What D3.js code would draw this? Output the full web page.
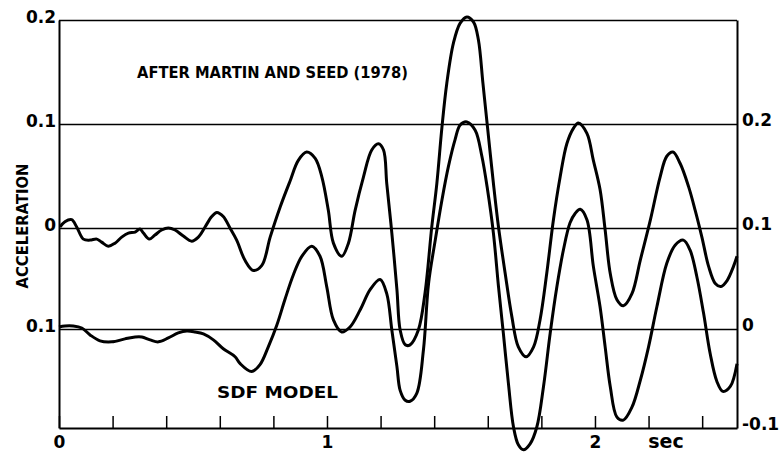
<!DOCTYPE html>
<html>
<head>
<meta charset="utf-8">
<script src="https://cdn.jsdelivr.net/npm/d3@7"></script>
<style>
body{margin:0;background:#fff;}
</style>
</head>
<body>
<div id="chart"></div>
<script>
// record (time in sec, acceleration in g)
const tEnd = 2.53;

// after Martin and Seed (1978) - left axis
const topTime = [0.004,0.022,0.047,0.066,0.091,0.116,0.141,0.159,0.184,0.209,
0.234,0.259,0.284,0.302,0.315,0.337,0.358,0.383,0.408,0.433,
0.464,0.495,0.520,0.545,0.570,0.589,0.613,0.638,0.663,0.694,
0.725,0.757,0.788,0.825,0.862,0.893,0.924,0.956,0.981,1.005,
1.024,1.055,1.080,1.105,1.136,1.167,1.192,1.211,1.223,1.242,
1.261,1.273,1.292,1.310,1.341,1.366,1.391,1.410,1.429,1.447,
1.472,1.497,1.522,1.547,1.565,1.582,1.599,1.621,1.640,1.665,
1.690,1.714,1.743,1.771,1.795,1.820,1.845,1.870,1.895,1.920,
1.938,1.970,1.994,2.019,2.038,2.057,2.082,2.106,2.138,2.169,
2.207,2.243,2.268,2.291,2.318,2.349,2.374,2.399,2.424,2.449,
2.470,2.493,2.517,2.530];
const topAccel = [0.001,0.006,0.008,0.001,-0.011,-0.012,-0.011,-0.014,-0.018,-0.015,
-0.009,-0.005,-0.004,-0.001,-0.005,-0.011,-0.007,-0.002,0.000,-0.002,
-0.008,-0.013,-0.009,0.001,0.011,0.015,0.011,0.000,-0.012,-0.032,
-0.042,-0.037,-0.009,0.020,0.045,0.065,0.073,0.067,0.049,0.017,
-0.015,-0.028,-0.015,0.017,0.049,0.075,0.081,0.075,0.043,-0.005,
-0.061,-0.101,-0.116,-0.116,-0.101,-0.064,0.001,0.043,0.097,0.139,
0.178,0.197,0.203,0.198,0.181,0.139,0.097,0.043,0.001,-0.045,
-0.088,-0.118,-0.128,-0.118,-0.091,-0.045,0.008,0.049,0.081,0.096,
0.101,0.091,0.065,0.037,-0.002,-0.045,-0.071,-0.077,-0.065,-0.032,
0.008,0.049,0.069,0.073,0.062,0.040,0.017,-0.009,-0.038,-0.055,
-0.058,-0.052,-0.038,-0.028];

// SDF model - right axis
const sdfTime = [0.000,0.022,0.053,0.085,0.116,0.153,0.197,0.246,0.284,0.309,
0.340,0.371,0.408,0.445,0.477,0.508,0.539,0.576,0.613,0.657,
0.676,0.719,0.750,0.781,0.813,0.844,0.875,0.906,0.943,0.974,
0.999,1.024,1.055,1.086,1.124,1.161,1.198,1.223,1.242,1.261,
1.273,1.292,1.310,1.335,1.360,1.379,1.404,1.429,1.453,1.478,
1.497,1.522,1.553,1.578,1.599,1.621,1.640,1.658,1.677,1.696,
1.714,1.733,1.758,1.783,1.808,1.833,1.858,1.882,1.907,1.926,
1.945,1.970,1.994,2.019,2.038,2.057,2.082,2.106,2.138,2.169,
2.200,2.231,2.268,2.299,2.330,2.355,2.380,2.405,2.430,2.455,
2.477,2.505,2.530];
const sdfAccel = [0.002,0.003,0.003,0.001,-0.006,-0.012,-0.013,-0.010,-0.008,-0.008,
-0.011,-0.013,-0.009,-0.004,-0.002,-0.003,-0.005,-0.011,-0.020,-0.028,
-0.035,-0.043,-0.036,-0.018,0.004,0.030,0.054,0.072,0.082,0.072,
0.042,0.009,-0.003,0.002,0.019,0.039,0.049,0.035,-0.001,-0.038,
-0.062,-0.072,-0.073,-0.065,-0.021,0.045,0.088,0.127,0.159,0.185,
0.199,0.202,0.194,0.169,0.137,0.095,0.042,-0.004,-0.055,-0.099,
-0.117,-0.122,-0.116,-0.099,-0.058,-0.004,0.042,0.078,0.105,0.114,
0.118,0.108,0.062,0.022,-0.018,-0.058,-0.089,-0.092,-0.079,-0.052,
-0.018,0.022,0.065,0.083,0.088,0.078,0.052,0.016,-0.025,-0.053,
-0.063,-0.058,-0.035];

// ticks
const xTicks = [0,0.2,0.4,0.6,0.8,1,1.2,1.4,1.6,1.8,2,2.2,2.4];
const xLabels = ["0","","","","","1","","","","","2","",""];
const leftTicks = [0.2,0.1,0,-0.1];
const leftLabels = ["0.2","0.1","0","0.1"];
const rightTicks = [0.2,0.1,0,-0.1];
const rightLabels = ["0.2","0.1","0","-0.1"];

const width = 780;
const height = 455;
const font = "'DejaVu Sans', 'Liberation Sans', Arial, sans-serif";

const svg = d3.select("#chart")
.append("svg")
.attr("width",width)
.attr("height",height)
.style("background","#fff");

const x = d3.scaleLinear()
.domain([0,tEnd])
.range([59,737]);

// hand drawn axes: spacing between grid lines is not quite even
const yLeft = d3.scaleLinear()
.domain([-0.2,-0.1,0,0.1,0.2])
.range([428,329,228,124,20]);

const yRight = d3.scaleLinear()
.domain([-0.1,0,0.1,0.2,0.3])
.range([428,329,228,124,20]);

// left axis + grid lines
const gl = svg.append("g")
.attr("transform",`translate(${x(0)},0)`)
.call(d3.axisLeft(yLeft)
  .tickValues(leftTicks)
  .tickSizeInner(-(x(tEnd)-x(0)))
  .tickSizeOuter(0)
  .tickPadding(3)
  .tickFormat((d,i)=>leftLabels[i]));
gl.select(".domain").attr("stroke","#000").attr("stroke-width",2);
gl.selectAll(".tick line").attr("stroke","#000").attr("stroke-width",1.3);
gl.selectAll(".tick text")
.attr("dy","0.12em")
.attr("fill","#000")
.style("font-family",font)
.style("font-weight","bold")
.style("font-size","17px");

// right axis
const gr = svg.append("g")
.attr("transform",`translate(${x(tEnd)},0)`)
.call(d3.axisRight(yRight)
  .tickValues(rightTicks)
  .tickSize(0)
  .tickPadding(5)
  .tickFormat((d,i)=>rightLabels[i]));
gr.select(".domain").attr("stroke","#000").attr("stroke-width",2);
gr.selectAll(".tick text")
.attr("dy","0.06em")
.attr("fill","#000")
.style("font-family",font)
.style("font-weight","bold")
.style("font-size","17px");

// time axis
const gx = svg.append("g")
.attr("transform",`translate(0,${yLeft(-0.2)})`)
.call(d3.axisBottom(x)
  .tickValues(xTicks)
  .tickSizeInner(-12)
  .tickSizeOuter(0)
  .tickPadding(8)
  .tickFormat((d,i)=>xLabels[i]));
gx.select(".domain").attr("stroke","#000").attr("stroke-width",2);
gx.selectAll(".tick line").attr("stroke","#000").attr("stroke-width",1.5);
gx.selectAll(".tick text")
.attr("fill","#000")
.style("font-family",font)
.style("font-weight","bold")
.style("font-size","17px");

// curves
const lineTop = d3.line()
.x((d,i)=>x(topTime[i]))
.y(d=>yLeft(d))
.curve(d3.curveCatmullRom.alpha(0.5));

const lineSdf = d3.line()
.x((d,i)=>x(sdfTime[i]))
.y(d=>yRight(d))
.curve(d3.curveCatmullRom.alpha(0.5));

svg.append("path")
.datum(topAccel)
.attr("fill","none")
.attr("stroke","#000")
.attr("stroke-width",3)
.attr("stroke-linejoin","round")
.attr("d",lineTop);

svg.append("path")
.datum(sdfAccel)
.attr("fill","none")
.attr("stroke","#000")
.attr("stroke-width",3)
.attr("stroke-linejoin","round")
.attr("d",lineSdf);

// labels
svg.append("text")
.attr("x",137)
.attr("y",78)
.attr("textLength",271)
.attr("lengthAdjust","spacingAndGlyphs")
.style("font-family",font)
.style("font-weight","bold")
.style("font-size","15px")
.text("AFTER MARTIN AND SEED (1978)");

svg.append("text")
.attr("x",217)
.attr("y",398)
.attr("textLength",121)
.attr("lengthAdjust","spacingAndGlyphs")
.style("font-family",font)
.style("font-weight","bold")
.style("font-size","15px")
.text("SDF MODEL");

svg.append("text")
.attr("transform","translate(28,226) rotate(-90)")
.attr("text-anchor","middle")
.attr("textLength",125)
.attr("lengthAdjust","spacingAndGlyphs")
.style("font-family",font)
.style("font-weight","bold")
.style("font-size","15px")
.text("ACCELERATION");

svg.append("text")
.attr("x",666)
.attr("y",448)
.attr("text-anchor","middle")
.style("font-family",font)
.style("font-weight","bold")
.style("font-size","19px")
.text("sec");
</script>
</body>
</html>
